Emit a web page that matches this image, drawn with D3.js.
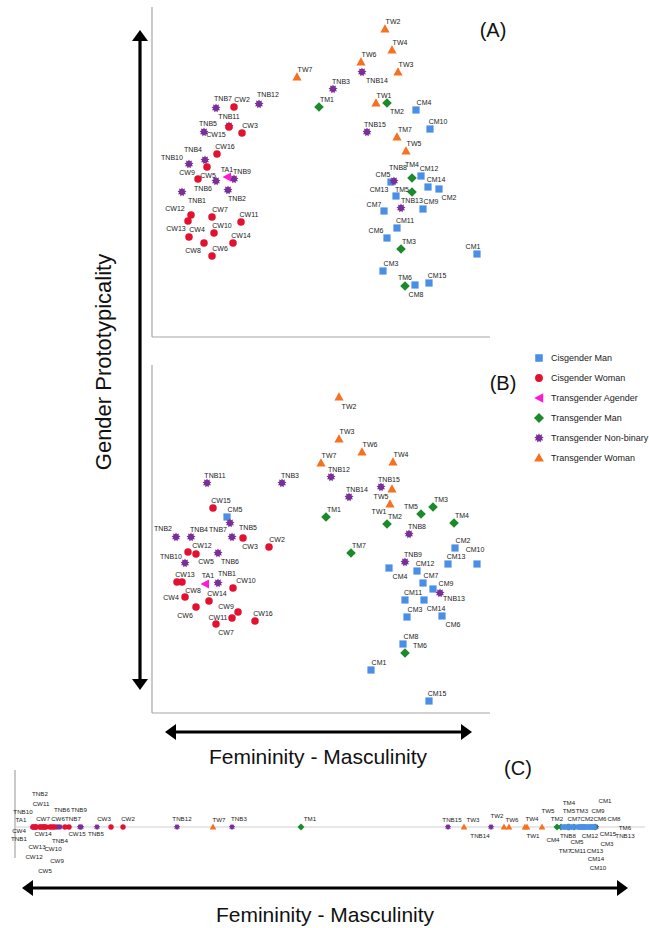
<!DOCTYPE html>
<html>
<head>
<meta charset="utf-8">
<script src="https://d3js.org/d3.v7.min.js"></script>
<style>
  body { margin: 0; background: #fff; font-family: "Liberation Sans", Arial, sans-serif; }
  .lbl { font-size: 7px; fill: #222; }
  .lblc { font-size: 6.2px; fill: #222; }
  .frame { stroke: #a6a6a6; stroke-width: 1.2; }
</style>
</head>
<body>
<svg id="chart" width="649" height="928"></svg>
<script>
// groups and legend
const groups = ["CM", "CW", "TA", "TM", "TNB", "TW"];
const groupNames = ["Cisgender Man", "Cisgender Woman", "Transgender Agender",
                    "Transgender Man", "Transgender Non-binary", "Transgender Woman"];
const groupColors = ["#4a8fe7", "#e3102f", "#ff19d6", "#1b8a2a", "#7a2e9a", "#f5701f"];

// participants (same order for every panel)
const ids = ["CM1","CM2","CM3","CM4","CM5","CM6","CM7","CM8","CM9","CM10","CM11","CM12","CM13","CM14","CM15",
  "CW2","CW3","CW4","CW5","CW6","CW7","CW8","CW9","CW10","CW11","CW12","CW13","CW14","CW15","CW16",
  "TA1",
  "TM1","TM2","TM3","TM4","TM5","TM6","TM7",
  "TNB1","TNB2","TNB3","TNB4","TNB5","TNB6","TNB7","TNB8","TNB9","TNB10","TNB11","TNB12","TNB13","TNB14","TNB15",
  "TW1","TW2","TW3","TW4","TW5","TW6","TW7"];

// panel A (2D solution)
const aX = [1.55,1.17,0.61,0.94,0.69,0.65,0.62,0.93,1.01,1.08,0.75,0.99,0.74,1.06,1.07,
  -0.88,-0.80,-1.33,-1.15,-1.10,-1.10,-1.18,-1.24,-1.08,-0.81,-1.31,-1.34,-0.89,-0.93,-1.05,
  -0.95,
  -0.03,0.65,0.79,0.90,0.90,0.83,0.75,
  -1.40,-0.94,0.11,-1.17,-1.18,-1.06,-1.06,0.72,-0.88,-1.33,-0.93,-0.63,0.79,0.40,0.45,
  0.54,0.63,0.76,0.70,0.84,0.39,-0.25];
const aY = [-0.82,-0.17,-0.99,0.62,-0.10,-0.66,-0.39,-1.13,-0.37,0.43,-0.56,-0.04,-0.24,-0.15,-1.11,
  0.65,0.39,-0.65,0.05,-0.84,-0.45,-0.71,-0.07,-0.61,-0.50,-0.43,-0.49,-0.71,0.45,0.18,
  -0.05,
  0.65,0.69,-0.77,-0.06,-0.20,-1.14,0.35,
  -0.20,-0.18,0.83,0.12,0.40,-0.09,0.64,-0.09,-0.07,0.08,0.46,0.68,-0.36,1.00,0.40,
  0.69,1.43,1.00,1.22,0.21,1.10,0.95];

// panel B (2D solution)
const bX = [0.49,1.33,0.85,0.67,-0.95,1.20,1.01,0.81,1.11,1.55,0.83,0.95,1.26,1.02,1.07,
  -0.53,-0.79,-1.37,-1.26,-1.26,-1.06,-1.40,-0.84,-0.89,-0.90,-1.34,-1.45,-1.13,-1.09,-0.67,
  -1.17,
  0.04,0.65,1.11,1.32,0.99,0.83,0.29,
  -1.04,-1.46,-0.40,-1.31,-0.90,-1.04,-0.92,0.87,0.83,-1.37,-1.15,0.09,1.18,0.27,0.59,
  0.68,0.17,0.17,0.71,0.70,0.40,-0.01];
const bY = [-1.31,-0.09,-0.78,-0.29,0.22,-0.77,-0.44,-1.05,-0.50,-0.25,-0.61,-0.32,-0.25,-0.61,-1.62,
  -0.08,0.01,-0.58,-0.15,-0.68,-0.85,-0.43,-0.73,-0.49,-0.79,-0.13,-0.43,-0.62,0.31,-0.82,
  -0.45,
  0.22,0.15,0.32,0.16,0.25,-1.14,-0.14,
  -0.44,0.02,0.56,0.02,0.02,-0.14,0.16,0.05,-0.23,-0.24,0.56,0.62,-0.54,0.42,0.52,
  0.35,1.42,1.00,0.77,0.50,0.87,0.76];

// panel C (1D solution)
const cX = [2.60,2.48,2.62,2.33,2.43,2.57,2.37,2.64,2.55,2.54,2.40,2.50,2.51,2.53,2.61,
  -2.07,-2.19,-2.97,-2.84,-2.76,-2.88,-2.65,-2.86,-2.80,-2.90,-2.94,-2.94,-2.86,-2.61,-2.78,
  -2.97,
  -0.29,2.27,2.44,2.38,2.39,2.65,2.31,
  -2.96,-2.90,-0.98,-2.74,-2.33,-2.72,-2.49,2.35,-2.50,-2.97,-2.70,-1.53,2.66,1.61,1.18,
  1.97,1.74,1.34,1.95,2.12,1.79,-1.17];

// marker shown with another group's symbol in panel A
const aShownAs = { TM7: "TW" };

// label placement (px offset of label centre from marker), default up-right
const labDefault = [8, -8];
const labA = {TNB7:[7,-10],TNB12:[9,-10],CW15:[-13,7],TNB11:[0,-10],TNB5:[4,-9],TNB4:[-12,-11],
  TNB10:[-17,-7],CW5:[1,8],CW9:[-11,-7],TNB6:[-13,7],TA1:[0,-8],TNB1:[15,8],TNB2:[9,8],
  CW12:[-16,-7],CW13:[-12,7],CW8:[-11,7],TNB14:[15,8],TM2:[10,8],TM4:[0,-14],CM5:[-8,-8],
  TNB8:[4,-14],CM2:[10,8],CM13:[-17,-7],TM5:[-10,-3],TNB13:[11,-8],CM7:[-10,-7],CM6:[-11,-8],
  CM1:[-4,-8],TM6:[0,-9],CM8:[1,9]};
const labB = {TNB7:[-12,6],TNB2:[-13,-9],TNB5:[16,-10],CW3:[7,8],CW12:[14,-7],CW5:[10,7],
  TNB6:[12,8],TNB10:[-14,-7],CW8:[11,8],TA1:[3,-9],TNB1:[9,-10],CW10:[13,-8],CW4:[-14,0],
  CW6:[-11,8],CW9:[-12,-6],CW11:[-14,-1],CW7:[10,8],TW2:[10,9],TW5:[-11,7],TW1:[-11,7],
  TM5:[-10,-8],CM10:[-2,-15],CM4:[11,8],CM9:[13,-6],TNB13:[14,5],CM14:[12,8],CM6:[11,8],TM6:[15,-8]};
const labC = {TNB10:[-10,-16],TA1:[-12,-8],CW4:[-14,3],TNB1:[-15,11],CW13:[1,19],CW12:[-2,29],
  TNB2:[0,-34],CW11:[1,-24],CW7:[1,-9],CW14:[-1,6],CW9:[13,33],CW5:[-1,43],CW10:[3,21],
  CW6:[4,-9],TNB4:[4,13],TNB6:[4,-18],CW15:[8,6],TNB9:[-1,-18],TNB7:[-8,-9],TNB5:[-1,6],
  CW3:[-7,-9],CW2:[5,-9],TNB12:[5,-9],TW7:[6,-8],TNB3:[7,-9],TM1:[9,-9],TNB15:[4,-8],
  TW3:[9,-8],TNB14:[-11,8],TW2:[-7,-12],TW6:[3,-8],TW4:[7,-9],TW1:[6,8],TW5:[6,-17],
  TM2:[0,-9],CM4:[-10,12],TM7:[4,23],TNB8:[3,8],CM7:[7,-9],TM4:[1,-25],TM5:[0,-17],
  CM11:[8,23],CM5:[4,14],TM3:[8,-17],CM2:[9,-9],CM12:[10,8],CM13:[14,23],CM14:[13,31],
  CM10:[14,40],CM9:[13,-17],CM6:[13,-9],CM1:[15,-27],CM15:[17,6],CM3:[15,16],CM8:[20,-9],
  TM6:[30,0],TNB13:[29,8]};

const svg = d3.select("#chart");
const color = d3.scaleOrdinal(groups, groupColors);
const groupOf = id => id.match(/^[A-Z]+/)[0];

// scales
const xA = d3.scaleLinear().domain([-1.7, 1.7]).range([152, 492]);
const yA = d3.scaleLinear().domain([-1.65, 1.65]).range([337, 7]);
const yB = d3.scaleLinear().domain([-1.74, 1.74]).range([713, 365]);
const xC = d3.scaleLinear().domain([-3.1, 3.1]).range([20, 640]);

// symbols
function starPath(ro, ri, n) {
  let p = [];
  for (let i = 0; i < 2 * n; i++) {
    let a = i * Math.PI / n - Math.PI / 2, r = i % 2 ? ri : ro;
    p.push([(r * Math.cos(a)).toFixed(2), (r * Math.sin(a)).toFixed(2)]);
  }
  return "M" + p.join("L") + "Z";
}
function shape(g, k) {
  if (g === "CM") return `M${-3.6*k},${-3.6*k}h${7.2*k}v${7.2*k}h${-7.2*k}Z`;
  if (g === "CW") return d3.symbol(d3.symbolCircle, 44 * k * k)();
  if (g === "TA") return `M${-4.5*k},0L${4*k},${-4.5*k}L${4*k},${4.5*k}Z`;
  if (g === "TM") return `M0,${-4.8*k}L${4.8*k},0L0,${4.8*k}L${-4.8*k},0Z`;
  if (g === "TNB") return starPath(4.6 * k, 2.9 * k, 9);
  return `M0,${-4.8*k}L${4.6*k},${3.4*k}L${-4.6*k},${3.4*k}Z`;
}

const drawOrder = ["CM", "TNB", "CW", "TA", "TM", "TW"];

function scatter(xs, ys, xScale, yScale, labs, shownAs) {
  const pts = ids.map((id, i) => ({ id, g: shownAs[id] || groupOf(id), x: xs[i], y: ys[i] }))
    .sort((p, q) => drawOrder.indexOf(p.g) - drawOrder.indexOf(q.g));
  const g = svg.append("g");
  g.append("line").attr("class", "frame")
    .attr("x1", xScale.range()[0]).attr("x2", xScale.range()[0])
    .attr("y1", yScale.range()[1]).attr("y2", yScale.range()[0]);
  g.append("line").attr("class", "frame")
    .attr("x1", xScale.range()[0]).attr("x2", xScale.range()[1] - 2)
    .attr("y1", yScale.range()[0]).attr("y2", yScale.range()[0]);
  g.selectAll("path.pt").data(pts).join("path").attr("class", "pt")
    .attr("d", d => shape(d.g, 1))
    .attr("fill", d => color(d.g))
    .attr("transform", d => `translate(${xScale(d.x)},${yScale(d.y)})`);
  g.selectAll("text.lbl").data(pts).join("text").attr("class", "lbl")
    .attr("text-anchor", "middle").attr("dominant-baseline", "central")
    .attr("x", d => xScale(d.x) + (labs[d.id] || labDefault)[0])
    .attr("y", d => yScale(d.y) + (labs[d.id] || labDefault)[1])
    .text(d => d.id);
}

scatter(aX, aY, xA, yA, labA, aShownAs);
scatter(bX, bY, xA, yB, labB, {});

// panel C
const cLine = 827;
const cOrder = ["TNB", "TA", "TM", "TW", "CM", "CW"];
const cPts = ids.map((id, i) => ({ id, g: groupOf(id), x: cX[i] }))
  .sort((p, q) => cOrder.indexOf(p.g) - cOrder.indexOf(q.g));
const gc = svg.append("g");
gc.append("line").attr("class", "frame").attr("x1", 15).attr("x2", 15).attr("y1", 770).attr("y2", 858);
gc.append("line").attr("stroke", "#cfcfcf").attr("stroke-width", 1.2)
  .attr("x1", 15).attr("x2", 645).attr("y1", cLine).attr("y2", cLine);
gc.selectAll("path.pt").data(cPts).join("path")
  .attr("d", d => shape(d.g, 0.72))
  .attr("fill", d => color(d.g))
  .attr("transform", d => `translate(${xC(d.x)},${cLine})`);
gc.selectAll("text.lblc").data(cPts.filter(d => labC[d.id])).join("text").attr("class", "lblc")
  .attr("text-anchor", "middle").attr("dominant-baseline", "central")
  .attr("x", d => xC(d.x) + labC[d.id][0])
  .attr("y", d => cLine + labC[d.id][1])
  .text(d => d.id);

// panel tags
[["(A)", 493, 30], ["(B)", 503, 383], ["(C)", 518, 768]].forEach(t =>
  svg.append("text").attr("x", t[1]).attr("y", t[2]).attr("text-anchor", "middle")
    .attr("dominant-baseline", "central").attr("font-size", 20).attr("fill", "#111").text(t[0]));

// legend
const leg = svg.append("g").attr("transform", "translate(539,358)");
groups.forEach((g, i) => {
  leg.append("path").attr("d", shape(g, 1.05)).attr("fill", color(g))
    .attr("transform", `translate(0,${i * 20})`);
  leg.append("text").attr("x", 12).attr("y", i * 20).attr("dominant-baseline", "central")
    .attr("font-size", 9).attr("fill", "#222").text(groupNames[i]);
});

// arrows
function arrow(x1, y1, x2, y2) {
  const a = svg.append("g");
  const ang = Math.atan2(y2 - y1, x2 - x1);
  const L = 11, W = 8;
  const ux = Math.cos(ang), uy = Math.sin(ang);
  a.append("line").attr("x1", x1 + ux * 6).attr("y1", y1 + uy * 6)
    .attr("x2", x2 - ux * 6).attr("y2", y2 - uy * 6)
    .attr("stroke", "#000").attr("stroke-width", 3.2);
  [[x1, y1, -1], [x2, y2, 1]].forEach(([px, py, s]) => {
    const bx = px - s * ux * L, by = py - s * uy * L;
    a.append("path").attr("fill", "#000")
      .attr("d", `M${px},${py}L${bx - uy * W},${by + ux * W}L${bx + uy * W},${by - ux * W}Z`);
  });
}
arrow(140, 30, 140, 690);
arrow(165, 732, 472, 732);
arrow(22, 888, 628, 888);

// axis titles
svg.append("text").attr("transform", "translate(103,362) rotate(-90)")
  .attr("text-anchor", "middle").attr("dominant-baseline", "central")
  .attr("font-size", 22).attr("fill", "#111").text("Gender Prototypicality");
svg.append("text").attr("x", 318).attr("y", 756).attr("text-anchor", "middle")
  .attr("dominant-baseline", "central").attr("font-size", 21).attr("fill", "#111")
  .text("Femininity - Masculinity");
svg.append("text").attr("x", 325).attr("y", 914).attr("text-anchor", "middle")
  .attr("dominant-baseline", "central").attr("font-size", 21).attr("fill", "#111")
  .text("Femininity - Masculinity");
</script>
</body>
</html>
